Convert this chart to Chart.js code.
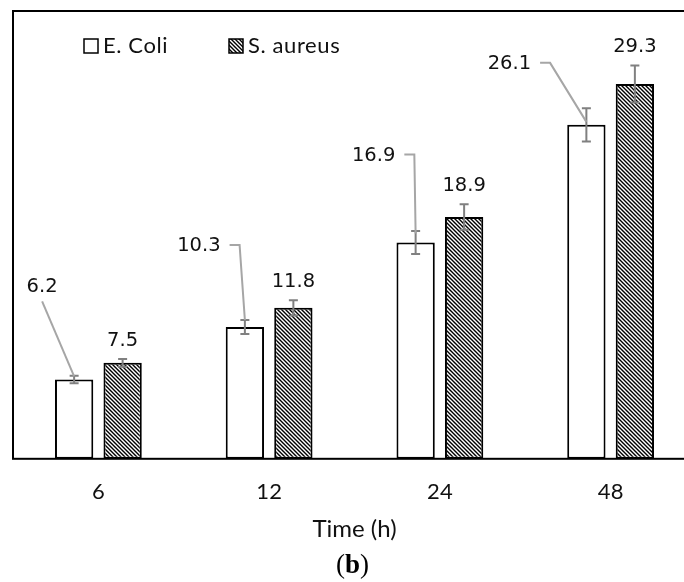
<!DOCTYPE html>
<html>
<head>
<meta charset="utf-8">
<script src="https://cdn.jsdelivr.net/npm/chart.js@4.4.1/dist/chart.umd.min.js"></script>
<style>
  html, body { margin: 0; padding: 0; background: #fff; overflow: hidden; }
  #wrap { width: 684px; height: 582px; overflow: hidden; position: relative; }
  #box { position: absolute; left: 0; top: 0; width: 709px; height: 582px; }
</style>
</head>
<body>
<div id="wrap"><div id="box"><canvas id="chart"></canvas></div></div>
<script>
// data
const categories = ['6', '12', '24', '48'];
const seriesNames = ['E. Coli', 'S. aureus'];
const ecoli = [6.2, 10.3, 16.9, 26.1];
const saureus = [7.5, 11.8, 18.9, 29.3];
const ecoliErr = [0.3, 0.55, 0.9, 1.3];
const saureusErr = [0.3, 0.6, 1.0, 1.45];
const yMax = 35;

// placement of the E. Coli callouts (pixels, relative to bar top)
const calloutShift = [[-32, -93], [-46, -81], [-42, -87], [-77, -61]];
const calloutKind = ['below', 'side', 'side', 'side'];
const calloutEnd = [-3, -7, -9, -3];

function makeHatch() {
  const tile = document.createElement('canvas');
  tile.width = 4; tile.height = 4;
  const g = tile.getContext('2d');
  g.fillStyle = '#fff';
  g.fillRect(0, 0, 4, 4);
  g.strokeStyle = '#000';
  g.lineWidth = 1.4;
  g.beginPath();
  g.moveTo(-1, -1); g.lineTo(5, 5);
  g.moveTo(-1, 3); g.lineTo(1, 5);
  g.moveTo(3, -1); g.lineTo(5, 1);
  g.stroke();
  return g.createPattern(tile, 'repeat');
}

const frame = {
  id: 'frame',
  afterDatasetsDraw(chart) {
    const {ctx, chartArea: a} = chart;
    ctx.save();
    ctx.strokeStyle = '#000';
    ctx.lineWidth = 2;
    ctx.strokeRect(a.left, a.top, a.right - a.left, a.bottom - a.top);
    ctx.restore();
  }
};

const errorBars = {
  id: 'errorBars',
  afterDatasetsDraw(chart) {
    const {ctx, scales: {y}} = chart;
    ctx.save();
    ctx.strokeStyle = '#808080';
    ctx.lineWidth = 2;
    chart.data.datasets.forEach((ds, i) => {
      chart.getDatasetMeta(i).data.forEach((bar, j) => {
        const top = y.getPixelForValue(ds.data[j] + ds.errors[j]);
        const bot = y.getPixelForValue(ds.data[j] - ds.errors[j]);
        ctx.beginPath();
        ctx.moveTo(bar.x, top); ctx.lineTo(bar.x, bot);
        ctx.moveTo(bar.x - 4.5, top); ctx.lineTo(bar.x + 4.5, top);
        ctx.moveTo(bar.x - 4.5, bot); ctx.lineTo(bar.x + 4.5, bot);
        ctx.stroke();
      });
    });
    ctx.restore();
  }
};

const valueLabels = {
  id: 'valueLabels',
  afterDatasetsDraw(chart) {
    const {ctx, scales: {y}} = chart;
    ctx.save();
    ctx.font = '19.5px "DejaVu Sans"';
    ctx.fillStyle = '#111';
    ctx.textAlign = 'center';
    ctx.textBaseline = 'middle';

    // E. Coli: offset labels with grey leader lines
    const ds0 = chart.data.datasets[0];
    chart.getDatasetMeta(0).data.forEach((bar, j) => {
      const txt = ds0.data[j].toFixed(1);
      const lx = bar.x + calloutShift[j][0];
      const ly = bar.y + calloutShift[j][1];
      ctx.fillText(txt, lx, ly);
      const w = ctx.measureText(txt).width;
      ctx.strokeStyle = '#a6a6a6';
      ctx.lineWidth = 2;
      ctx.beginPath();
      if (calloutKind[j] === 'below') {
        ctx.moveTo(lx, ly + 15);
      } else {
        ctx.moveTo(lx + w / 2 + 9, ly - 1);
        ctx.lineTo(lx + w / 2 + 19, ly - 1);
      }
      ctx.lineTo(bar.x, bar.y + calloutEnd[j]);
      ctx.stroke();
    });

    // S. aureus: above the error bar
    const ds1 = chart.data.datasets[1];
    chart.getDatasetMeta(1).data.forEach((bar, j) => {
      const top = y.getPixelForValue(ds1.data[j] + ds1.errors[j]);
      ctx.fillText(ds1.data[j].toFixed(1), bar.x, top - 18);
    });
    ctx.restore();
  }
};

const legendBox = {
  id: 'legendBox',
  afterDraw(chart) {
    const {ctx, chartArea: a} = chart;
    const itemX = [71, 216];
    ctx.save();
    ctx.font = '22px Lato';
    ctx.letterSpacing = '0.6px';
    ctx.textBaseline = 'middle';
    chart.data.datasets.forEach((ds, i) => {
      const x = a.left + itemX[i];
      const yc = a.top + 35;
      ctx.fillStyle = ds.backgroundColor;
      ctx.fillRect(x, yc - 7, 14, 14);
      ctx.strokeStyle = '#000';
      ctx.lineWidth = 1.5;
      ctx.strokeRect(x, yc - 7, 14, 14);
      ctx.fillStyle = '#111';
      ctx.fillText(ds.label, x + 19, yc);
    });
    ctx.restore();
  }
};

const caption = {
  id: 'caption',
  afterDraw(chart) {
    const {ctx, chartArea: a} = chart;
    const cx = (a.left + a.right) / 2 - 2;
    const base = 573;
    const parts = [['(', 'normal'], ['b', 'bold'], [')', 'normal']];
    ctx.save();
    ctx.fillStyle = '#000';
    ctx.textBaseline = 'alphabetic';
    let total = 0;
    parts.forEach(p => {
      ctx.font = p[1] + ' 27px "Liberation Serif"';
      total += ctx.measureText(p[0]).width;
    });
    let x = cx - total / 2;
    parts.forEach(p => {
      ctx.font = p[1] + ' 27px "Liberation Serif"';
      ctx.fillText(p[0], x, base);
      x += ctx.measureText(p[0]).width;
    });
    ctx.restore();
  }
};

const hatch = makeHatch();

new Chart(document.getElementById('chart').getContext('2d'), {
  type: 'bar',
  data: {
    labels: categories,
    datasets: [{
      label: seriesNames[0],
      data: ecoli,
      errors: ecoliErr,
      backgroundColor: '#fff',
      borderColor: '#000',
      borderWidth: 2,
      borderSkipped: false
    }, {
      label: seriesNames[1],
      data: saureus,
      errors: saureusErr,
      backgroundColor: hatch,
      borderColor: '#000',
      borderWidth: 2,
      borderSkipped: false
    }]
  },
  options: {
    responsive: true,
    maintainAspectRatio: false,
    animation: false,
    categoryPercentage: 0.568,
    barPercentage: 0.79,
    layout: {padding: {left: 13, right: 13, top: 11, bottom: 38}},
    plugins: {
      legend: {display: false},
      tooltip: {enabled: false}
    },
    scales: {
      x: {
        grid: {display: false, drawTicks: true, tickLength: 17},
        border: {display: false},
        ticks: {padding: 3, color: '#111', font: {family: 'Lato', size: 22}},
        title: {display: true, text: 'Time (h)', color: '#111', font: {family: 'Lato', size: 24}, padding: {top: 7, bottom: 0}}
      },
      y: {
        display: false,
        min: 0,
        max: yMax
      }
    }
  },
  plugins: [frame, errorBars, valueLabels, legendBox, caption]
});
</script>
</body>
</html>
